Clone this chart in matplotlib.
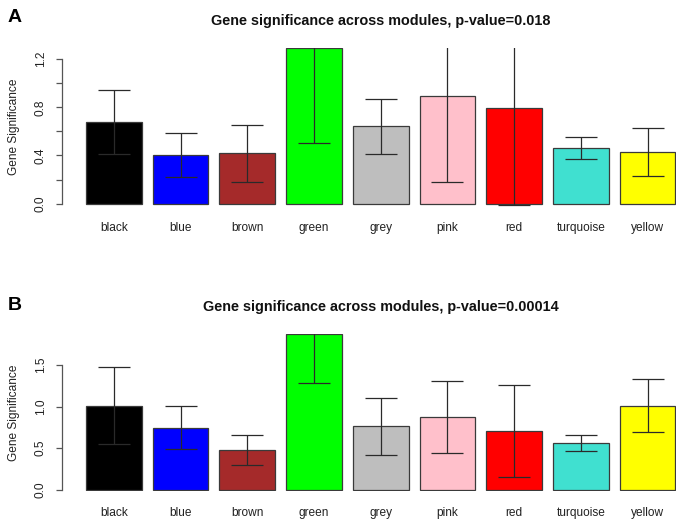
import numpy as np
import matplotlib
matplotlib.use("Agg")
import matplotlib.pyplot as plt

plt.rcParams["font.family"] = ["Liberation Sans", "DejaVu Sans"]

# Module names and their R colours
modules = ["black", "blue", "brown", "green", "grey", "pink", "red", "turquoise", "yellow"]
bar_colors = ["#000000", "#0000FF", "#A52A2A", "#00FF00", "#BEBEBE",
              "#FFC0CB", "#FF0000", "#40E0D0", "#FFFF00"]

# Panel A: mean gene significance and standard error per module
gs_a = [0.675, 0.404, 0.420, 1.290, 0.642, 0.893, 0.791, 0.464, 0.431]
se_a = [0.265, 0.181, 0.236, 0.787, 0.230, 0.713, 0.805, 0.092, 0.200]
title_a = "Gene significance across modules, p-value=0.018"
yticks_a = [0.0, 0.2, 0.4, 0.6, 0.8, 1.0, 1.2]
yticklabels_a = ["0.0", "", "0.4", "", "0.8", "", "1.2"]

# Panel B
gs_b = [1.011, 0.746, 0.478, 1.873, 0.763, 0.875, 0.703, 0.562, 1.011]
se_b = [0.466, 0.258, 0.175, 0.593, 0.343, 0.430, 0.554, 0.100, 0.321]
title_b = "Gene significance across modules, p-value=0.00014"
yticks_b = [0.0, 0.5, 1.0, 1.5]
yticklabels_b = ["0.0", "0.5", "1.0", "1.5"]

W, H = 676, 519
fig = plt.figure(figsize=(W / 100, H / 100), dpi=100)

# barplot geometry: width 1, space 0.2
xpos = 0.7 + 1.2 * np.arange(len(modules))
xlim = (0.2 - 0.424, 10.8 + 0.424)
left_px, right_px = 62.45, 699.0


def panel(top_px, bottom_px, ylim, gs, se, title, yticks, yticklabels, letter, letter_y):
    ax = fig.add_axes([left_px / W, 1 - bottom_px / H,
                       (right_px - left_px) / W, (bottom_px - top_px) / H])
    ax.bar(xpos, gs, width=1.0, color=bar_colors, edgecolor="#3a3a3a",
           linewidth=0.9, zorder=2)
    ax.errorbar(xpos, gs, yerr=se, fmt="none", ecolor="#2a2a2a",
                elinewidth=0.9, capsize=11.2, capthick=0.9, zorder=3)
    ax.set_xlim(*xlim)
    ax.set_ylim(*ylim)
    for s in ("top", "right", "bottom"):
        ax.spines[s].set_visible(False)
    ax.spines["left"].set_bounds(yticks[0], yticks[-1])
    ax.spines["left"].set_color("#555555")
    ax.spines["left"].set_linewidth(0.9)
    ax.set_yticks(yticks)
    ax.set_yticklabels(yticklabels, rotation=90, va="center", fontsize=8.6,
                       color="#222222")
    ax.tick_params(axis="y", length=4.3, width=0.9, color="#555555", pad=7)
    ax.set_xticks(xpos)
    ax.set_xticklabels(modules, fontsize=8.6, color="#222222")
    ax.tick_params(axis="x", length=0, pad=11.5)
    ax.set_title(title, fontsize=10.4, fontweight="bold", pad=16.5, color="#111111")
    ax.text(-0.0760, 0.5, "Gene Significance", transform=ax.transAxes,
            rotation=90, ha="center", va="center", fontsize=8.6, color="#222222")
    fig.text(15 / W, 1 - letter_y / H, letter, fontsize=14, fontweight="bold",
             ha="center", va="center", color="#000000")
    return ax


panel(48.3, 205.6, (-0.016, 1.290), gs_a, se_a, title_a, yticks_a, yticklabels_a, "A", 18)
panel(334.0, 491.2, (-0.018, 1.873), gs_b, se_b, title_b, yticks_b, yticklabels_b, "B", 306)

fig.savefig("out.png", dpi=100)
